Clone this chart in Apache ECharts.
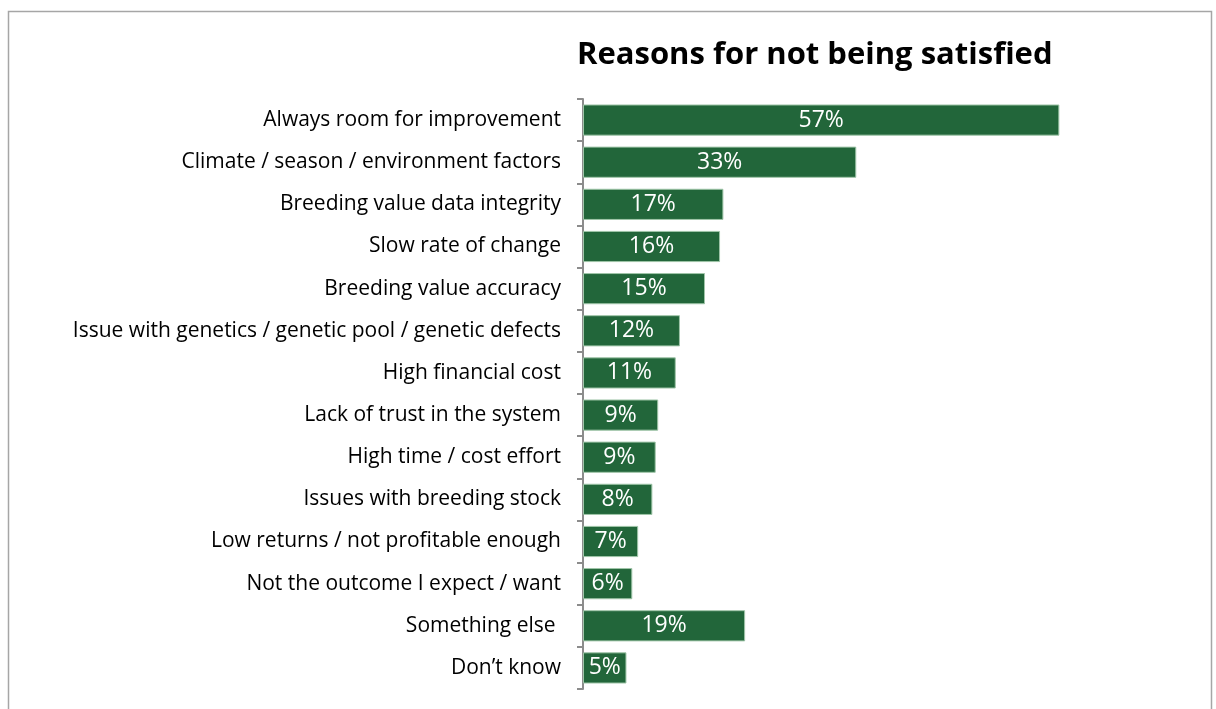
<!DOCTYPE html>
<html>
<head>
<meta charset="utf-8">
<script src="https://cdn.jsdelivr.net/npm/echarts@6/dist/echarts.min.js"></script>
<style>
html,body{margin:0;padding:0;background:#fff;}
#chart{width:1216px;height:709px;}
</style>
</head>
<body>
<div id="chart"></div>
<script>
const categories = [
  "Always room for improvement",
  "Climate / season / environment factors",
  "Breeding value data integrity",
  "Slow rate of change",
  "Breeding value accuracy",
  "Issue with genetics / genetic pool / genetic defects",
  "High financial cost",
  "Lack of trust in the system",
  "High time / cost effort",
  "Issues with breeding stock",
  "Low returns / not profitable enough",
  "Not the outcome I expect / want",
  "Something else ",
  "Don\u2019t know"
];
const values = [57.0, 32.7, 16.8, 16.4, 14.6, 11.6, 11.1, 9.0, 8.7, 8.3, 6.6, 5.9, 19.4, 5.2];
const titleText = "Reasons for not being satisfied";

const chart = echarts.init(document.getElementById('chart'), null, {renderer: 'canvas'});
const FONT = 'Open Sans';
chart.setOption({
  animation: false,
  backgroundColor: '#ffffff',
  title: {
    text: titleText,
    left: 572,
    top: 35,
    textStyle: {fontFamily: FONT, fontWeight: 'bold', fontSize: 31, color: '#000'}
  },
  graphic: [{
    type: 'rect',
    shape: {x: 8.5, y: 11.5, width: 1203, height: 760},
    style: {fill: 'none', stroke: '#a6a6a6', lineWidth: 1.5},
    silent: true
  }],
  grid: {left: 583, top: 99, width: 585, height: 590, containLabel: false},
  xAxis: {
    type: 'value', min: 0, max: 70,
    axisLine: {show: false}, axisTick: {show: false},
    axisLabel: {show: false}, splitLine: {show: false}
  },
  yAxis: {
    type: 'category',
    inverse: true,
    data: categories,
    axisLine: {show: true, lineStyle: {color: '#8c8c8c', width: 2}},
    axisTick: {show: true, length: 6, lineStyle: {color: '#8c8c8c', width: 2}},
    axisLabel: {fontFamily: FONT, fontSize: 21, color: '#000', margin: 22, padding: [3, 0, 0, 0]}
  },
  series: [{
    type: 'bar',
    data: values,
    barCategoryGap: '26%',
    itemStyle: {color: '#22663a', borderColor: '#9fc5a8', borderWidth: 1},
    label: {
      show: true, position: 'inside',
      fontFamily: FONT, fontSize: 23, color: '#ffffff',
      formatter: p => Math.round(p.value) + '%'
    }
  }]
});
</script>
</body>
</html>
